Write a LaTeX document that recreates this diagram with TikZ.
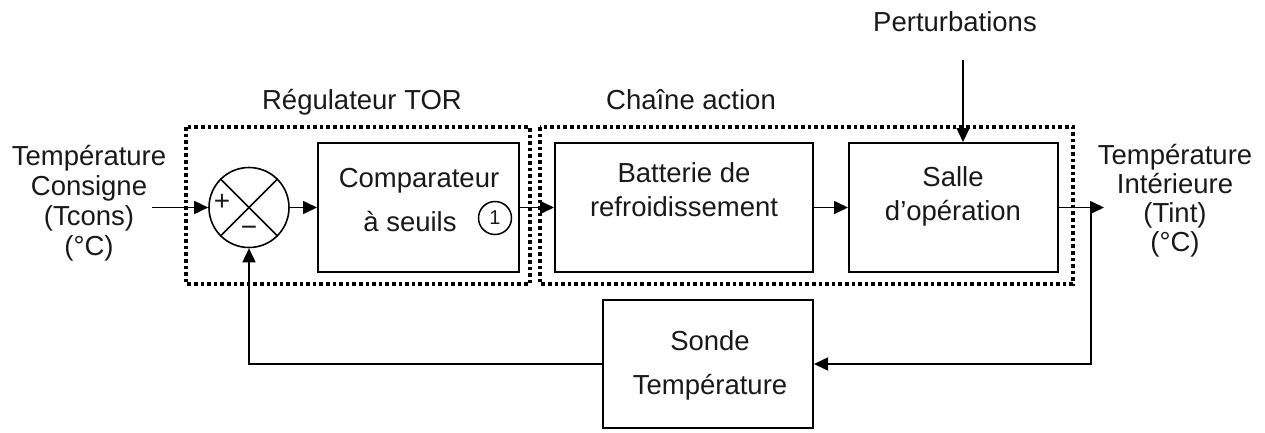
\documentclass[tikz,border=0pt]{standalone}
\usepackage{fontspec}
\setmainfont{Liberation Sans}
\usetikzlibrary{arrows.meta}
\begin{document}
\begin{tikzpicture}[x=1pt,y=-1pt,
  every node/.style={text=black!90, inner sep=0pt},
  blk/.style={draw=black, line width=2pt, rectangle, minimum height=129pt},
  lbl/.style={font=\fontsize{27.5}{34}\selectfont, align=center},
  grp/.style={draw=black, line width=3.6pt, dash pattern=on 3.6pt off 3pt},
  conn/.style={line width=1.6pt, -{Triangle[length=14pt,width=13pt]}},
  sgn/.style={font=\fontsize{28}{28}\selectfont}]
\useasboundingbox (0,0) rectangle (1265,432);
% group boxes
\draw[grp] (186,127) rectangle (530,284);
\draw[grp] (540,127) rectangle (1073,284);
\node[lbl] (tregul) at (362,102) {Régulateur TOR};
\node[lbl] (tchaine) at (691,100) {Chaîne action};
\node[lbl] (tpert) at (955,22) {Perturbations};
% blocks
\node[draw=black, line width=1.6pt, circle, minimum size=80pt] (sum) at (249,207.5) {};
\draw[line width=1.6pt] (sum.north west) -- (sum.south east);
\draw[line width=1.6pt] (sum.north east) -- (sum.south west);
\node[sgn] (plus) at (222,202) {+};
\node[sgn] (minus) at (249,231) {−};
\node[blk, minimum width=201pt] (comp) at (418.5,207.5) {};
\node[lbl] (tcomp) at (419,181) {Comparateur};
\node[lbl] (tseuil) at (410,222) {à seuils};
\node[draw=black, line width=1.5pt, circle, minimum size=33pt, font=\fontsize{20}{20}\selectfont] (one) at (495,218) {1};
\node[blk, minimum width=258pt] (batt) at (684,207.5) {};
\node[lbl] (tbatt) at (684,190) {Batterie de\\refroidissement};
\node[blk, minimum width=209pt] (salle) at (953.5,207.5) {};
\node[lbl] (tsalle) at (953,196) {Salle\\d’opération};
\node[blk, minimum width=210pt, minimum height=128pt] (sonde) at (708,364) {};
\node[lbl, font=\fontsize{27.5}{44}\selectfont] (tsonde) at (710,365) {Sonde\\Température};
% side labels
\node[lbl, font=\fontsize{27.5}{30}\selectfont] (tin) at (89,203) {Température\\Consigne\\(Tcons)\\(°C)};
\node[lbl, font=\fontsize{27.5}{29}\selectfont] (tout) at (1175,201) {Température\\Intérieure\\(Tint)\\(°C)};
% coordinates
\coordinate (in) at (152,207.5);
\coordinate (out) at (1104,207.5);
\coordinate (br) at (1091,207.5);
\coordinate (pert) at (963,60);
% connectors
\draw[conn] (in) -- (sum.west);
\draw[conn] (sum.east) -- (comp.west);
\draw[conn] (comp.east) -- (batt.west);
\draw[conn] (batt.east) -- (salle.west);
\draw[conn] (salle.east) -- (out);
\draw[conn] (pert) -- (pert |- salle.north);
\draw[conn] (br) |- (sonde.east);
\draw[conn] (sonde.west) -| (sum.south);
\end{tikzpicture}
\end{document}
